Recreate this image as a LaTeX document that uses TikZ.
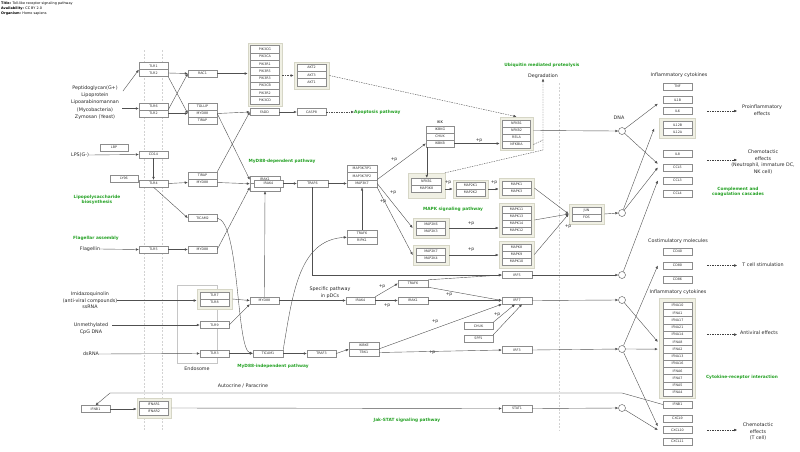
\documentclass[tikz,border=0pt]{standalone}
\usepackage{fontspec}
\setmainfont{DejaVu Sans}
\usetikzlibrary{arrows.meta, shapes.misc}

\definecolor{grpfill}{RGB}{240,240,228}
\definecolor{grpline}{RGB}{214,214,198}
\definecolor{boxline}{RGB}{140,140,140}
\definecolor{linkgray}{RGB}{80,80,80}
\definecolor{pwgreen}{RGB}{34,160,34}

\tikzset{
  gene/.style={draw=boxline, fill=white, line width=0.4pt, minimum width=29pt,
    minimum height=7pt, inner sep=0pt, font=\fontsize{3.3}{4}\selectfont, text=black!80},
  grp/.style={draw=grpline, fill=grpfill, line width=0.7pt, minimum width=35pt, inner sep=0pt},
  link/.style={draw=linkgray, line width=0.4pt, -{Latex[length=3pt,width=2.6pt]}},
  dlink/.style={draw=linkgray, line width=0.4pt, dash pattern=on 1.5pt off 1pt},
  darrow/.style={dlink, -{Latex[length=3pt,width=2.6pt]}},
  lbl/.style={font=\fontsize{4.8}{6.9}\selectfont, text=black!85, align=center, inner sep=0pt},
  pwlabel/.style={font=\bfseries\fontsize{4.3}{5.2}\selectfont, text=pwgreen, align=center, inner sep=0pt},
  phos/.style={font=\fontsize{4.4}{5}\selectfont, text=black!85, inner sep=0pt},
  junc/.style={circle, draw=linkgray, fill=white, line width=0.4pt, minimum size=7pt, inner sep=0pt},
  membrane/.style={draw=gray!35, line width=0.4pt, dash pattern=on 2pt off 1.5pt},
  band/.style={draw=gray!22, line width=2pt}
}

\begin{document}
\begin{tikzpicture}[x=1pt, y=-1pt]
  \useasboundingbox (0,0) rectangle (800,451);

  % Plasma membrane and nuclear envelope
  \draw[membrane] (144,50) -- (144,430);
  \draw[membrane] (162,50) -- (162,430);
  \draw[membrane] (559,83) -- (559,430);

  % Header
  \node[anchor=north west, inner sep=0pt, align=left, font=\fontsize{3.4}{5}\selectfont] (hdr) at (1,1.8)
    {\textbf{Title:} Toll-like receptor signaling pathway\\\textbf{Availability:} CC BY 2.0\\\textbf{Organism:} Homo sapiens};

  % Endosome and complex frames
  \node[draw=gray!45, line width=0.5pt, minimum width=40pt, minimum height=78pt, inner sep=0pt] (endo) at (197,324) {};
  \node[grp, minimum height=63pt, minimum width=34pt] (pi3kgrp) at (265,74.5) {};
  \node[grp, minimum height=27pt] (aktgrp) at (311.5,75.5) {};
  \node[grp, minimum height=33pt, minimum width=33pt] (nfkbgrp) at (516.5,133.5) {};
  \node[grp, chamfered rectangle, chamfered rectangle sep=4pt, minimum width=37pt, minimum height=25pt] (map3k8grp) at (426.5,185.5) {};
  \node[grp, minimum height=18pt] (map2k1grp) at (470.5,189) {};
  \node[grp, minimum height=20pt] (mapk1grp) at (516.5,188) {};
  \node[grp, minimum height=20pt, minimum width=36pt] (map2k6grp) at (431,228) {};
  \node[grp, minimum height=34pt] (mapk11grp) at (516.5,220) {};
  \node[grp, minimum height=20pt, minimum width=36pt] (map2k7grp) at (431,255) {};
  \node[grp, minimum height=27pt] (mapk8grp) at (516.5,254.5) {};
  \node[grp, minimum height=20pt] (jungrp) at (586.5,214) {};
  \node[grp, minimum height=20pt, minimum width=36pt] (il12grp) at (677.5,128.5) {};
  \node[grp, minimum height=99.5pt, minimum width=36pt] (ifngrp) at (677.5,348.5) {};
  \node[grp, minimum height=20pt, minimum width=34pt] (ifnargrp) at (154,408) {};
  \node[grp, minimum height=20pt] (tlr78grp) at (214.5,299) {};

  % Receptors
  \node[gene] (tlrA1) at (153.5,66) {TLR1};
  \node[gene] (tlrA2) at (153.5,73) {TLR2};
  \node[gene] (tlrB6) at (153.5,106.5) {TLR6};
  \node[gene] (tlrB2) at (153.5,113.5) {TLR2};
  \node[gene, minimum width=28pt] (lbp) at (114,147.5) {LBP};
  \node[gene] (cd14) at (153.5,154.5) {CD14};
  \node[gene, minimum width=28pt] (ly96) at (124,178.5) {LY96};
  \node[gene] (tlr4) at (153.5,183.5) {TLR4};
  \node[gene] (tlr5) at (153.5,249.5) {TLR5};
  \node[gene] (ifnar1) at (154,404.5) {IFNAR1};
  \node[gene] (ifnar2) at (154,411.5) {IFNAR2};
  \node[gene] (ifnbL) at (95.5,409) {IFNB1};
  \node[gene] (tlr7) at (214.5,295.5) {TLR7};
  \node[gene] (tlr8) at (214.5,302.5) {TLR8};
  \node[gene] (tlr9) at (214.5,325) {TLR9};
  \node[gene] (tlr3) at (214.5,353.5) {TLR3};

  % Adaptors
  \node[gene] (rac1) at (202.5,73.5) {RAC1};
  \node[gene] (tollip) at (202.5,106.5) {TOLLIP};
  \node[gene] (myd88a) at (202.5,113.5) {MYD88};
  \node[gene] (tirapa) at (202.5,120.5) {TIRAP};
  \node[gene] (tirapb) at (202.5,175.5) {TIRAP};
  \node[gene] (myd88b) at (202.5,182.5) {MYD88};
  \node[gene] (ticam2) at (202.5,218) {TICAM2};
  \node[gene] (myd88c) at (202.5,249.5) {MYD88};
  \node[gene] (myd88d) at (264.5,300.5) {MYD88};
  \node[gene, minimum width=30pt] (ticam1) at (268,353.5) {TICAM1};

  % PI3K - AKT and apoptosis branch
  \foreach \g [count=\i from 0] in {PIK3CG,PIK3CA,PIK3R1,PIK3R5,PIK3R3,PIK3CB,PIK3R2,PIK3CD}
    \node[gene, minimum height=7.3pt] (pik\i) at (265,{49.2+7.3*\i}) {\g};
  \node[gene, minimum height=7.3pt] (akt2) at (311.5,67.7) {AKT2};
  \node[gene, minimum height=7.3pt] (akt3) at (311.5,75) {AKT3};
  \node[gene, minimum height=7.3pt] (akt1) at (311.5,82.3) {AKT1};
  \node[gene] (fadd) at (264.5,112) {FADD};
  \node[gene] (casp8) at (311.5,112) {CASP8};

  % IRAK complex, TRAF6, TAK1
  \node[gene, minimum width=30pt, minimum height=7.5pt] (irak1) at (265,179.75) {IRAK1};
  \node[gene, minimum width=30pt, minimum height=7.5pt] (irak2) at (265,187.25) {IRAK2};
  \node[gene] (irak4) at (268.5,183.5) {IRAK4};
  \node[gene, minimum width=31pt] (traf6a) at (312.5,183.5) {TRAF6};
  \node[gene, minimum width=30pt, minimum height=7.5pt] (tab1) at (362,168.5) {MAP3K7IP1};
  \node[gene, minimum width=30pt, minimum height=7.5pt] (tab2) at (362,176) {MAP3K7IP2};
  \node[gene, minimum width=30pt, minimum height=7.5pt] (map3k7) at (362,183.5) {MAP3K7};
  \node[gene, minimum width=30pt] (traf6b) at (362,233.5) {TRAF6};
  \node[gene, minimum width=30pt] (ripk1) at (362,240.5) {RIPK1};

  % pDC and MyD88-independent branches
  \node[gene] (irak4b) at (360.5,300.5) {IRAK4};
  \node[gene, minimum width=30pt] (traf6c) at (413,283.5) {TRAF6};
  \node[gene, minimum width=30pt] (irak1b) at (413,300.5) {IRAK1};
  \node[gene] (traf3) at (321.5,353.5) {TRAF3};
  \node[gene, minimum width=30pt] (ikbke) at (364,345.5) {IKBKE};
  \node[gene, minimum width=30pt] (tbk1) at (364,352.5) {TBK1};

  % IKK, NF-kB and MAPK cascades
  \node[inner sep=0pt, font=\fontsize{3.6}{4}\selectfont] (ikklbl) at (440,122.5) {IKK};
  \node[gene, minimum width=28pt] (ikbkg) at (440,129.5) {IKBKG};
  \node[gene, minimum width=28pt] (chuk) at (440,136.5) {CHUK};
  \node[gene, minimum width=28pt] (ikbkb) at (440,143.5) {IKBKB};
  \node[gene, minimum width=28pt] (nfkb1) at (516.5,123.5) {NFKB1};
  \node[gene, minimum width=28pt] (nfkb2) at (516.5,130.5) {NFKB2};
  \node[gene, minimum width=28pt] (rela) at (516.5,137.5) {RELA};
  \node[gene, minimum width=28pt] (nfkbia) at (516.5,144.5) {NFKBIA};
  \node[gene, minimum width=30pt] (nfkb1b) at (426.5,181.5) {NFKB1};
  \node[gene, minimum width=30pt] (map3k8) at (426.5,188.5) {MAP3K8};
  \node[gene] (map2k1) at (470.5,185.5) {MAP2K1};
  \node[gene] (map2k2) at (470.5,192.5) {MAP2K2};
  \node[gene] (mapk1) at (516.5,184.5) {MAPK1};
  \node[gene] (mapk3) at (516.5,191.5) {MAPK3};
  \node[gene] (map2k6) at (431,224.5) {MAP2K6};
  \node[gene] (map2k3) at (431,231.5) {MAP2K3};
  \node[gene] (mapk11) at (516.5,209.5) {MAPK11};
  \node[gene] (mapk13) at (516.5,216.5) {MAPK13};
  \node[gene] (mapk14) at (516.5,223.5) {MAPK14};
  \node[gene] (mapk12) at (516.5,230.5) {MAPK12};
  \node[gene] (map2k7) at (431,251.5) {MAP2K7};
  \node[gene] (map2k4) at (431,258.5) {MAP2K4};
  \node[gene] (mapk8) at (516.5,247.5) {MAPK8};
  \node[gene] (mapk9) at (516.5,254.5) {MAPK9};
  \node[gene] (mapk10) at (516.5,261.5) {MAPK10};
  \node[gene] (jun) at (586.5,210.5) {JUN};
  \node[gene] (fos) at (586.5,217.5) {FOS};

  % Transcription factors
  \node[gene, minimum width=30pt] (irf5) at (517,275) {IRF5};
  \node[gene, minimum width=30pt] (irf7) at (517,300.5) {IRF7};
  \node[gene, minimum width=30pt] (irf3) at (517,350) {IRF3};
  \node[gene, minimum width=30pt] (stat1) at (517,408.5) {STAT1};
  \node[gene] (chuk2) at (478.5,326) {CHUK};
  \node[gene] (spp1) at (478.5,338.5) {SPP1};

  % Target genes
  \node[gene] (tnf) at (677.5,86.5) {TNF};
  \node[gene] (il1b) at (677.5,100) {IL1B};
  \node[gene] (il6) at (677.5,111) {IL6};
  \node[gene] (il12b) at (677.5,125) {IL12B};
  \node[gene] (il12a) at (677.5,132) {IL12A};
  \node[gene] (il8) at (677.5,154) {IL8};
  \node[gene] (ccl5) at (677.5,167.5) {CCL5};
  \node[gene] (ccl3) at (677.5,180.5) {CCL3};
  \node[gene] (ccl4) at (677.5,193.5) {CCL4};
  \node[gene] (cd40) at (677.5,251.5) {CD40};
  \node[gene] (cd80) at (677.5,265.5) {CD80};
  \node[gene] (cd86) at (677.5,279.5) {CD86};
  \foreach \g [count=\i from 0] in {IFNA10,IFNA1,IFNA17,IFNA21,IFNA14,IFNA8,IFNA2,IFNA13,IFNA16,IFNA6,IFNA7,IFNA5,IFNA4}
    \node[gene, minimum height=7.25pt] (ifna\i) at (677.5,{305.6+7.25*\i}) {\g};
  \node[gene] (ifnbR) at (677.5,404.5) {IFNB1};
  \node[gene] (cxcl9) at (677.5,418.5) {CXCL9};
  \node[gene] (cxcl10) at (677.5,430) {CXCL10};
  \node[gene] (cxcl11) at (677.5,441.5) {CXCL11};

  % Promoter junctions
  \node[junc] (jdna) at (622,131) {};
  \node[junc] (jap1) at (622,213) {};
  \node[junc] (jirf5) at (622,275) {};
  \node[junc] (jirf7) at (622,300) {};
  \node[junc] (jirf3) at (622,349) {};
  \node[junc] (jstat) at (622,408) {};

  % Ligands and other labels
  \node[lbl, font=\fontsize{4.8}{7.2}\selectfont] (ligA) at (95,102.5) {Peptidoglycan(G+)\\Lipoprotein\\Lipoarabinomannan\\(Mycobacteria)\\Zymosan (Yeast)};
  \coordinate (lgA) at (123,91);
  \coordinate (lgB) at (122,108.5);
  \node[lbl] (lps) at (80,155) {LPS(G-)};
  \node[lbl] (flag) at (90,249) {Flagellin};
  \node[lbl, font=\fontsize{4.8}{6.5}\selectfont] (imq) at (90,300.5) {Imidazoquinolin\\(anti-viral compounds)\\ssRNA};
  \node[lbl] (cpg) at (91,329) {Unmethylated\\CpG DNA};
  \coordinate (lgC) at (112,325);
  \node[lbl] (dsrna) at (91,354) {dsRNA};
  \node[lbl] (endolbl) at (197,369) {Endosome};
  \node[lbl] (autopara) at (243,386) {Autocrine / Paracrine};
  \node[lbl] (pdc) at (330,293) {Specific pathway\\in pDCs};
  \node[lbl] (degr) at (543,76) {Degradation};
  \node[lbl] (dna) at (619,118) {DNA};
  \node[lbl] (cytoA) at (679,75) {Inflammatory cytokines};
  \node[lbl] (costim) at (678,241) {Costimulatory molecules};
  \node[lbl] (cytoB) at (678,292) {Inflammatory cytokines};
  \node[lbl] (proinf) at (762,110.5) {Proinflammatory\\effects};
  \node[lbl] (chemoA) at (763,162) {Chemotactic\\effects\\(Neutrophil, immature DC,\\NK cell)};
  \node[lbl] (tcell) at (763,265) {T cell stimulation};
  \node[lbl] (antivir) at (759,333) {Antiviral effects};
  \node[lbl] (chemoB) at (758,431.5) {Chemotactic\\effects\\(T cell)};

  % Linked pathways
  \node[pwlabel, anchor=west] (apop) at (354,112) {Apoptosis pathway};
  \node[pwlabel] (ubiq) at (542,65) {Ubiquitin mediated proteolysis};
  \node[pwlabel] (myddep) at (282,161) {MyD88-dependent pathway};
  \node[pwlabel] (mapkpw) at (453,209) {MAPK signaling pathway};
  \node[pwlabel] (lpsbio) at (97,199.5) {Lipopolysaccharide\\biosynthesis};
  \node[pwlabel] (flagasm) at (96,238) {Flagellar assembly};
  \node[pwlabel] (mydind) at (273,366) {MyD88-independent pathway};
  \node[pwlabel] (jakstat) at (407,420) {Jak-STAT signaling pathway};
  \node[pwlabel] (complem) at (738,191.5) {Complement and\\coagulation cascades};
  \node[pwlabel] (cytrec) at (742,377) {Cytokine-receptor interaction};

  % Phosphorylation marks
  \node[phos] (p1) at (394,160) {+p};
  \node[phos] (p2) at (393,193) {+p};
  \node[phos] (p3) at (383,202) {+p};
  \node[phos] (p4) at (479,141) {+p};
  \node[phos] (p5) at (448,183) {+p};
  \node[phos] (p6) at (494,183) {+p};
  \node[phos] (p7) at (471,224) {+p};
  \node[phos] (p8) at (471,250) {+p};
  \node[phos] (p9) at (568,227) {+p};
  \node[phos] (p10) at (382,287) {+p};
  \node[phos] (p11) at (387,306) {+p};
  \node[phos] (p12) at (449,295) {+p};
  \node[phos] (p13) at (435,322) {+p};
  \node[phos] (p14) at (497,315) {+p};
  \node[phos] (p15) at (432,353) {+p};

  % Ligand to receptor
  \draw[link] (lgA) -- (tlrA1.south west);
  \draw[link] (lgB) -- (tlrB6.west |- lgB);
  \draw[link] (lps.east) -- (cd14.west);
  \draw[link] (cd14.south) -- (tlr4.north);
  \draw[link] (flag.east) -- (tlr5.west);
  \draw[link] (imq.east) -- (tlr78grp.west |- imq.east);
  \draw[link] (lgC) -- (tlr9.west);
  \draw[link] (dsrna.east) -- (tlr3.west);

  % Receptor to adaptor
  \draw[link] (tlrA2.east) -- (rac1.west);
  \draw[link] (tlrA2.south east) -- (myd88a.west);
  \draw[link] (tlrB2.north east) -- (rac1.west);
  \draw[link] (tlrB2.east) -- (myd88a.west);
  \draw[link] (tlr4.east) -- (myd88b.west);
  \draw[link] (tlr4.south) -- (ticam2.west);
  \draw[link] (tlr5.east) -- (myd88c.west);
  \draw[link] (tlr78grp.east) -- (myd88d.west);
  \draw[link] (tlr9.east) -- (myd88d.south west);
  \draw[link] (tlr3.east) -- (ticam1.west);

  % PI3K, apoptosis
  \draw[link] (rac1.east) -- (pi3kgrp.west |- rac1.east);
  \draw[darrow] (pi3kgrp.east |- aktgrp.west) -- (aktgrp.west);
  \draw[darrow] (aktgrp.east) -- (nfkbgrp.north);
  \draw[link] (myd88a.east) -- (fadd.west);
  \draw[link] (tirapb.north east) -- (fadd.west);
  \draw[link] (fadd.east) -- (casp8.west);
  \draw[darrow] (casp8.east) -- (apop.west);

  % MyD88-dependent
  \draw[link] (myd88a.east) -- (irak1.west);
  \draw[link] (myd88b.east) -- (irak1.south west);
  \draw[link] (myd88c.east) -- (irak2.west);
  \draw[link] (myd88d.north) -- (irak2.south);
  \draw[link] (irak4.east) -- (traf6a.west);
  \draw[link] (traf6a.east) -- (map3k7.west);
  \draw[link] (traf6b.north) -- (map3k7.south);
  \draw[link] (traf6a.south) |- (irf5.west);
  \draw[link] (map3k7.north east) -- (ikbkb.west);
  \draw[link] (map3k7.east) -- (map2k6grp.west);
  \draw[link] (map3k7.south east) -- (map2k7grp.west);
  \draw[link] (ikbkb.east) -- (nfkbgrp.west |- ikbkb.east);
  \draw[link] ([xshift=1pt]ikbkb.south west) -- ([xshift=1pt]ikbkb.south west |- nfkb1b.north);
  \draw[link] (map3k8grp.east |- map2k1grp.west) -- (map2k1grp.west);
  \draw[link] (map2k1grp.east) -- (mapk1grp.west |- map2k1grp.east);
  \draw[link] (map2k6grp.east) -- (mapk11grp.west |- map2k6grp.east);
  \draw[link] (map2k7grp.east) -- (mapk8grp.west |- map2k7grp.east);
  \draw[link] (mapk1grp.east) -- (jungrp.west);
  \draw[link] (mapk11grp.east) -- (jungrp.west);
  \draw[link] (mapk8grp.east) -- (jungrp.west);

  % Degradation of NF-kB inhibitors
  \coordinate (dgj) at (543,150);
  \coordinate (dgk) at (543,140);
  \draw[darrow] (map3k8grp.north east) -- (dgj) -- (degr.south);
  \draw[dlink] (nfkbgrp.east |- nfkbia.east) -- (dgk);

  % pDC and MyD88-independent
  \draw[link] (myd88d.east) -- (irak4b.west);
  \draw[link] (irak4b.north east) -- (traf6c.west);
  \draw[link] (irak4b.east) -- (irak1b.west);
  \draw[link] (traf6c.north east) -- (irf5.west);
  \draw[link] (traf6c.south east) -- (irf7.west);
  \draw[link] (irak1b.east) -- (irf7.west);
  \draw[link] (ticam2.east) .. controls (240,222) and (236,350) .. (ticam1.west);
  \draw[link] (ticam1.north east) .. controls (293,290) and (300,240) .. (traf6b.south west);
  \draw[link] (ticam1.east) -- (traf3.west);
  \draw[link] (traf3.east) -- (ikbke.south west);
  \draw[link] (tbk1.north east) -- (irf7.south west);
  \draw[link] (tbk1.east) -- (irf3.west);
  \draw[link] (chuk2.north east) -- ([xshift=-2pt]irf7.south);
  \draw[link] (spp1.north east) -- ([xshift=5pt]irf7.south);

  % Interferon feedback
  \coordinate (fbL) at (110,393);
  \coordinate (fbR) at (622,393);
  \draw[band] (fbR) -- (fbL);
  \draw[draw=linkgray, line width=0.4pt] (ifnbR.west) -- (fbR);
  \draw[link] (fbL) -- (ifnbL.north);
  \draw[link] (ifnbL.east) -- (ifnargrp.west |- ifnbL.east);
  \draw[link] (ifnargrp.east) -- (stat1.west);

  % Transcription factors to promoters
  \draw[link] (nfkbgrp.east |- nfkb2.east) -- (jdna.west);
  \draw[link] (jungrp.east) -- (jap1.west);
  \draw[link] (irf5.east) -- (jirf5.west);
  \draw[link] (irf7.east) -- (jirf7.west);
  \draw[link] (irf3.east) -- (jirf3.west);
  \draw[link] (stat1.east) -- (jstat.west);

  % Promoters to target genes
  \draw[link] (jdna) -- ([xshift=-5pt]il1b.south west);
  \draw[link] (jdna) -- ([xshift=-5pt]ccl5.north west);
  \draw[link] (jap1) -- ([xshift=-5pt]il12grp.west);
  \draw[link] (jap1) -- ([xshift=-5pt]ccl5.west);
  \draw[link] (jirf5) -- ([xshift=-5pt]ccl3.west);
  \draw[link] (jirf3) -- ([xshift=-5pt]cd80.west);
  \draw[link] (jirf7) -- ([xshift=-5pt]ifna5.west);
  \draw[link] (jirf3) -- ([xshift=-5pt]ifna6.west);
  \draw[link] (jirf3) -- ([xshift=-5pt]cxcl10.north west);
  \draw[link] (jstat) -- ([xshift=-5pt]cxcl10.west);

  % Cellular effects
  \draw[darrow, draw=black!75] ([xshift=15pt]il6.east) -- ++(30,0);
  \draw[darrow, draw=black!75] ([shift={(15,6)}]il8.east) -- ++(30,0);
  \draw[darrow, draw=black!75] ([xshift=15pt]cd80.east) -- ++(30,0);
  \draw[darrow, draw=black!75] ([xshift=15pt]ifna4.east) -- ++(30,0);
  \draw[darrow, draw=black!75] ([xshift=15pt]cxcl10.east) -- ++(30,0);
\end{tikzpicture}
\end{document}
